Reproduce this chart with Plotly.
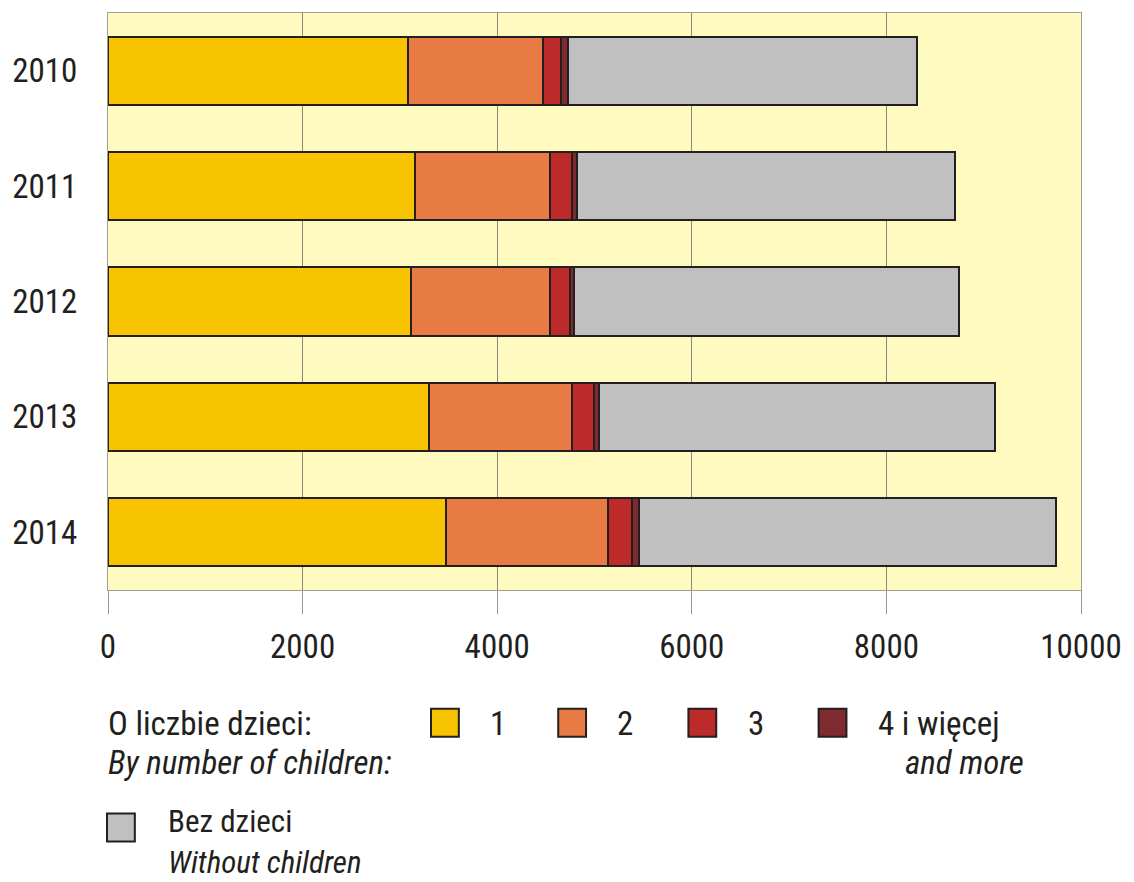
import plotly.graph_objects as go

# dane
years = ["2010", "2011", "2012", "2013", "2014"]
one_child = [3085, 3153, 3112, 3296, 3476]
two_children = [1386, 1389, 1430, 1474, 1659]
three_children = [184, 225, 205, 228, 248]
four_plus = [71, 54, 47, 48, 72]
no_children = [3589, 3882, 3950, 4065, 4290]

COLORS = {
    "c1": "#F8C300",
    "c2": "#E87A43",
    "c3": "#BC2A29",
    "c4": "#7F2A2E",
    "none": "#C0C0C0",
    "edge": "#231F20",
    "bg": "#FFFAC0",
    "grid": "#8C8A78",
    "text": "#231F20",
}

FONT = "Roboto Condensed, Liberation Sans Narrow, Arial Narrow, sans-serif"
FS = 33

W, H = 1134, 882
L, R, T, B = 108, 47, 12, 292
PW, PH = W - L - R, H - T - B


def px(x):
    return (x - L) / PW


def py(y):
    return (H - B - y) / PH


series = [
    ("1", one_child, COLORS["c1"]),
    ("2", two_children, COLORS["c2"]),
    ("3", three_children, COLORS["c3"]),
    ("4 i więcej", four_plus, COLORS["c4"]),
    ("Bez dzieci", no_children, COLORS["none"]),
]

fig = go.Figure()
for name, vals, col in series:
    fig.add_trace(go.Bar(
        y=years,
        x=vals,
        name=name,
        orientation="h",
        marker=dict(color=col, line=dict(color=COLORS["edge"], width=2)),
        showlegend=False,
    ))

fig.update_layout(
    width=W,
    height=H,
    barmode="stack",
    bargap=0.41,
    plot_bgcolor=COLORS["bg"],
    paper_bgcolor="white",
    margin=dict(l=L, r=R, t=T, b=B, pad=0),
    font=dict(family=FONT, size=FS, color=COLORS["text"]),
)
fig.update_xaxes(
    range=[0, 10000],
    tickvals=[0, 2000, 4000, 6000, 8000, 10000],
    ticktext=["0", "2000", "4000", "6000", "8000", "10000"],
    showgrid=True,
    gridcolor=COLORS["grid"],
    gridwidth=1,
    ticks="outside",
    ticklen=23,
    tickcolor="#9A988A",
    showline=True,
    linecolor="#A09E90",
    mirror=True,
    zeroline=False,
    ticklabelstandoff=4,
    tickfont=dict(size=FS),
)
fig.update_yaxes(
    autorange="reversed",
    showgrid=False,
    showline=True,
    linecolor="#A09E90",
    mirror=True,
    ticks="",
    ticklabelstandoff=23,
    tickfont=dict(size=FS),
)

# legenda rysowana ręcznie
def swatch(x, y, col, size=28):
    fig.add_shape(
        type="rect", xref="paper", yref="paper",
        x0=px(x), x1=px(x + size), y0=py(y + size), y1=py(y),
        fillcolor=col, line=dict(color=COLORS["edge"], width=2),
    )


def label(x, y, text, italic=False, anchor="middle", size=FS):
    fig.add_annotation(
        xref="paper", yref="paper", x=px(x), y=py(y),
        text=f"<i>{text}</i>" if italic else text,
        showarrow=False, xanchor="left", yanchor=anchor,
        xshift=-2,
        font=dict(family=FONT, size=size, color=COLORS["text"]),
    )


label(108, 724, "O liczbie dzieci:")
label(108, 763, "By number of children:", italic=True)
swatch(433, 709, COLORS["c1"])
label(492, 724, "1")
swatch(561, 709, COLORS["c2"])
label(620, 724, "2")
swatch(692, 709, COLORS["c3"])
label(752, 724, "3")
swatch(823, 709, COLORS["c4"])
label(883, 724, "4 i więcej")
label(910, 763, "and more", italic=True)
swatch(107, 814, COLORS["none"])
# dwie linie stykają się na y=842, żeby się nie nachodziły i mieściły w oknie
label(168, 842, "Bez dzieci", anchor="bottom", size=31)
label(168, 842, "Without children", italic=True, anchor="top", size=31)

# bez domyślnego marginesu strony, żeby figura wypełniała okno
fig.write_html(
    "out.html",
    config={"displayModeBar": False},
    post_script="document.body.style.margin='0';document.documentElement.style.overflow='hidden';",
)
